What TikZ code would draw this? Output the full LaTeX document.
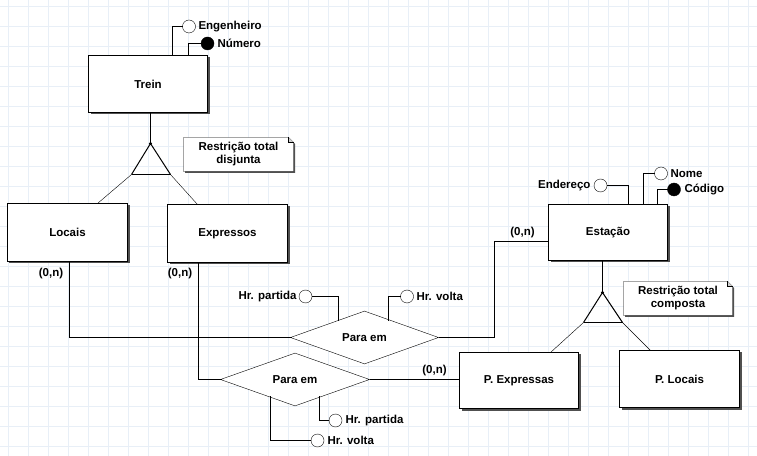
\documentclass[tikz,border=0pt]{standalone}
\usepackage{fontspec}
\setmainfont{Liberation Sans}
\usetikzlibrary{shapes.geometric,shadows}
\definecolor{gridc}{RGB}{232,239,247}
\definecolor{shadowc}{RGB}{80,80,80}
\pgfdeclarelayer{gridlayer}
\pgfdeclarelayer{under}
\pgfsetlayers{gridlayer,under,main}
\begin{document}
\begin{tikzpicture}[x=1bp,y=-1bp,
  font=\fontsize{11.5bp}{13bp}\selectfont\bfseries,
  line width=1bp,
  ent/.style={draw,line width=1bp,fill=white,inner sep=0pt,outer sep=0pt,
    drop shadow={shadow xshift=2bp,shadow yshift=-2bp,fill=shadowc,opacity=1}},
  rel/.style={diamond,draw,fill=white,inner sep=0pt,outer sep=0pt,minimum width=148bp,minimum height=50bp},
  attr/.style={circle,draw,fill=white,minimum size=13bp,inner sep=0pt,outer sep=0pt},
  keyattr/.style={attr,fill=black},
  lbl/.style={inner sep=0pt,outer sep=0pt},
  notebox/.style={align=center,inner sep=0pt,outer sep=0pt},
  card/.style={inner sep=0pt,outer sep=0pt},
  tri/.style={line width=1bp,line join=round}
]
\useasboundingbox (0,0) rectangle (757,456);
\begin{scope}[shift={(0.5,0.5)}]
\begin{pgfonlayer}{gridlayer}
  \fill[white] (-0.5,-0.5) rectangle (756.5,455.5);
  \foreach \x in {8,28,...,748} \draw[gridc,line width=1bp] (\x,-0.5) -- (\x,455.5);
  \foreach \y in {6,26,...,446} \draw[gridc,line width=1bp] (-0.5,\y) -- (756.5,\y);
\end{pgfonlayer}

% entities
\node[ent,minimum width=119bp,minimum height=57bp] (trein) at (147.5,83.5) {Trein};
\node[ent,minimum width=120bp,minimum height=58bp] (locais) at (67,232) {Locais};
\node[ent,minimum width=120bp,minimum height=58bp] (expr) at (227,233) {Expressos};
\node[ent,minimum width=119bp,minimum height=56bp] (est) at (607.5,232) {Estação};
\node[ent,minimum width=119bp,minimum height=56bp] (pexp) at (518.5,380) {P. Expressas};
\node[ent,minimum width=120bp,minimum height=57bp] (ploc) at (679,378.5) {P. Locais};

% relationships
\node[rel] (pe1) at (364,337) {Para em};
\node[rel,minimum width=149bp] (pe2) at (294.5,379) {Para em};

% Trein attributes
\node[attr] (eng) at (188.5,26) {};
\node[lbl,anchor=west] (engl) at (198,26) {Engenheiro};
\node[keyattr] (num) at (207,43) {};
\node[lbl,anchor=west] (numl) at (217,43) {Número};
\draw (eng.west) -| ([xshift=24.5bp]trein.north);
\draw (num.west) -| ([xshift=40.5bp]trein.north);

% Estacao attributes
\node[attr] (end) at (600,185) {};
\node[lbl,anchor=east] (endl) at (590,185) {Endereço};
\node[attr] (nome) at (660.5,173) {};
\node[lbl,anchor=west] (nomel) at (670,173) {Nome};
\node[keyattr] (cod) at (673.5,189) {};
\node[lbl,anchor=west] (codl) at (684,189) {Código};
\draw (end.east) -| ([xshift=20.5bp]est.north);
\draw (nome.west) -| ([xshift=35.5bp]est.north);
\draw (cod.west) -| ([xshift=49.5bp]est.north);

% upper relationship attributes
\node[attr] (hp1) at (305,296) {};
\node[lbl,anchor=east] (hp1l) at (296,296) {Hr. partida};
\node[attr] (hv1) at (406.5,296) {};
\node[lbl,anchor=west] (hv1l) at (416,296) {Hr. volta};
\coordinate (hp1e) at (338,320.8);
\coordinate (hv1e) at (388,320.1);
\draw (hp1.east) -| (hp1e);
\draw (hv1.west) -| (hv1e);

% lower relationship attributes
\node[attr] (hp2) at (335,420) {};
\node[lbl,anchor=west] (hp2l) at (345,420) {Hr. partida};
\node[attr] (hv2) at (317,440) {};
\node[lbl,anchor=west] (hv2l) at (327,440) {Hr. volta};
\coordinate (hp2e) at (319,395.9);
\coordinate (hv2e) at (270,395.6);
\draw (hp2.west) -| (hp2e);
\draw (hv2.west) -| (hv2e);

% specialization triangle 1
\coordinate (t1) at (150,143);
\coordinate (t1l) at (131,174);
\coordinate (t1r) at (170,174);
\draw (trein.south -| t1) -- (t1);
\draw[tri] (t1l) -- (t1) -- (t1r);
\draw (t1l) -- (t1r);
\draw (t1l) -- ([xshift=30bp]locais.north);
\draw (t1r) -- ([xshift=-30bp]expr.north);
\fill (t1) circle (1.6);

% specialization triangle 2
\coordinate (t2) at (602,292);
\coordinate (t2l) at (583,322);
\coordinate (t2r) at (622,322);
\draw (est.south -| t2) -- (t2);
\draw[tri] (t2l) -- (t2) -- (t2r);
\draw (t2l) -- (t2r);
\draw (t2l) -- ([xshift=31.5bp]pexp.north);
\draw (t2r) -- ([xshift=-29bp]ploc.north);
\fill (t2) circle (1.6);

% relationship connectors
\draw ([xshift=2bp]locais.south) |- (pe1.west);
\draw ([xshift=-29bp]expr.south) |- (pe2.west);
\draw (pe1.east) -| ([xshift=-54bp,yshift=-9bp]est.west) -- ([yshift=-9bp]est.west);
\draw (pe2.east) -- (pe2.east -| pexp.west);

% cardinalities
\node[card] (c1) at (50.5,273) {(0,n)};
\node[card] (c2) at (179.5,273) {(0,n)};
\node[card] (c3) at (522,232) {(0,n)};
\node[card] (c4) at (434,370) {(0,n)};

% notes
\node[notebox,minimum width=110bp,minimum height=34bp] (n1) at (238,154) {Restrição total\\disjunta};
\node[notebox,minimum width=109bp,minimum height=34bp] (n2) at (677.5,298) {Restrição total\\composta};
\begin{pgfonlayer}{under}
  \foreach \n in {n1,n2} {
    \fill[shadowc] ([xshift=1.5bp,yshift=-1.5bp]\n.north west) -- ([xshift=-3.5bp,yshift=-1.5bp]\n.north east)
      -- ([xshift=1.5bp,yshift=-6.5bp]\n.north east) -- ([xshift=1.5bp,yshift=-1.5bp]\n.south east)
      -- ([xshift=1.5bp,yshift=-1.5bp]\n.south west) -- cycle;
    \draw[fill=white] (\n.north west) -- ([xshift=-5bp]\n.north east) -- ([yshift=-5bp]\n.north east)
      -- (\n.south east) -- (\n.south west) -- cycle;
    \draw[fill=gray!35,line width=0.6bp] ([xshift=-5bp]\n.north east) -- ([xshift=-5bp,yshift=-5bp]\n.north east) -- ([yshift=-5bp]\n.north east);
  }
\end{pgfonlayer}
\end{scope}
\end{tikzpicture}
\end{document}
